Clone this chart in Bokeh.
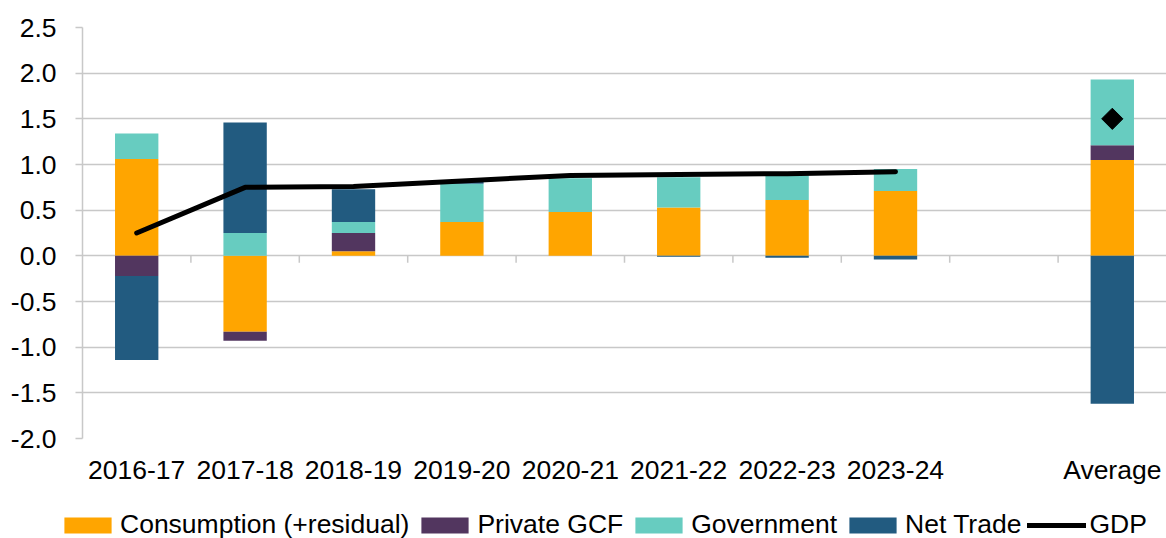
import numpy as np
from bokeh.plotting import figure
from bokeh.layouts import column
from bokeh.models import Range1d, FixedTicker, Legend, LegendItem, ColumnDataSource, PrintfTickFormatter
from bokeh.embed import file_html
from bokeh.resources import INLINE

categories = ["2016-17", "2017-18", "2018-19", "2019-20", "2020-21", "2021-22",
              "2022-23", "2023-24", "", "Average"]
consumption = [1.06, -0.83, 0.05, 0.37, 0.48, 0.53, 0.61, 0.71, 0.0, 1.05]
private_gcf = [-0.22, -0.10, 0.20, 0.00, 0.00, 0.00, 0.00, 0.00, 0.0, 0.16]
government = [0.28, 0.25, 0.12, 0.42, 0.37, 0.33, 0.27, 0.24, 0.0, 0.72]
net_trade = [-0.92, 1.21, 0.36, 0.02, 0.00, -0.01, -0.02, -0.04, 0.0, -1.62]
gdp_years = ["2016-17", "2017-18", "2018-19", "2019-20", "2020-21", "2021-22", "2022-23", "2023-24"]
gdp = [0.25, 0.75, 0.76, 0.82, 0.88, 0.89, 0.90, 0.92]
gdp_average = [1.50]
y_ticks = [-2.0, -1.5, -1.0, -0.5, 0.0, 0.5, 1.0, 1.5, 2.0, 2.5]

series = [("Consumption (+residual)", consumption, "#FFA500"),
          ("Private GCF", private_gcf, "#52365F"),
          ("Government", government, "#67CCC0"),
          ("Net Trade", net_trade, "#225B80")]

FONT = "Liberation Sans"
GRID = "#C8C8C8"
FS = "26.5px"

xpos = np.arange(len(categories)) + 0.5
pos_base = np.zeros(len(categories))
neg_base = np.zeros(len(categories))

p = figure(width=1166, height=502, output_backend="svg", toolbar_location=None,
           x_range=Range1d(0, len(categories)), y_range=Range1d(-2.0, 2.5),
           min_border_left=82, min_border_right=0, min_border_top=27, min_border_bottom=64)
p.outline_line_color = None

# category boundary tick marks at the zero line
tick_len = 7 * 4.5 / 411.0
bounds = np.arange(1, len(categories))
p.segment(x0=bounds, y0=np.zeros(len(bounds)), x1=bounds, y1=np.full(len(bounds), -tick_len),
          line_color=GRID, line_width=1.5)

# legend-only figure
lg = figure(width=1166, height=36, output_backend="svg", toolbar_location=None,
            x_range=Range1d(0, 1), y_range=Range1d(0, 1), x_axis_location=None, y_axis_location=None,
            min_border_left=0, min_border_right=0, min_border_top=0, min_border_bottom=0)
lg.outline_line_color = None
lg.xgrid.grid_line_color = None
lg.ygrid.grid_line_color = None

aligned = False
for fig in (p, lg):
    if "frame_align" in fig.properties():
        fig.frame_align = False
        aligned = True

items = []
for name, vals, col in series:
    v = np.array(vals, dtype=float)
    bottom = np.where(v >= 0, pos_base, neg_base)
    top = bottom + v
    pos_base = np.where(v >= 0, top, pos_base)
    neg_base = np.where(v < 0, top, neg_base)
    src = ColumnDataSource(dict(x=xpos, top=top, bottom=bottom))
    p.vbar(x="x", top="top", bottom="bottom", width=0.4, source=src,
           fill_color=col, line_color=None)
    lr_ = lg.vbar(x=[-5], top=[-5], bottom=[-6], width=0.4, fill_color=col, line_color=None)
    items.append(LegendItem(label=name, renderers=[lr_]))

gx = [xpos[categories.index(c)] for c in gdp_years]
p.line(gx, gdp, line_color="black", line_width=5, line_cap="round", line_join="round")
lgl = lg.line(x=[-5, -4], y=[-5, -5], line_color="black", line_width=5, line_cap="round")
items.append(LegendItem(label="GDP", renderers=[lgl]))
p.scatter([xpos[categories.index("Average")]], gdp_average, marker="square", angle=np.pi / 4,
          size=15, fill_color="black", line_color="black")

# axes
p.yaxis.ticker = FixedTicker(ticks=y_ticks)
p.yaxis.formatter = PrintfTickFormatter(format="%.1f")
p.yaxis.axis_line_color = GRID
p.yaxis.axis_line_width = 1.5
p.yaxis.major_tick_line_color = GRID
p.yaxis.major_tick_line_width = 1.5
p.yaxis.major_tick_out = 7
p.yaxis.major_tick_in = 0
p.yaxis.minor_tick_line_color = None
p.yaxis.major_label_text_font = FONT
p.yaxis.major_label_text_font_size = FS
p.yaxis.major_label_text_color = "black"
p.yaxis.major_label_standoff = 19

p.xaxis.ticker = FixedTicker(ticks=list(xpos))
p.xaxis.major_label_overrides = {float(x): c for x, c in zip(xpos, categories)}
p.xaxis.axis_line_color = None
p.xaxis.major_tick_line_color = None
p.xaxis.minor_tick_line_color = None
p.xaxis.major_label_text_font = FONT
p.xaxis.major_label_text_font_size = FS
p.xaxis.major_label_text_color = "black"
p.xaxis.major_label_standoff = 10

p.xgrid.grid_line_color = None
p.ygrid.ticker = FixedTicker(ticks=y_ticks)
p.ygrid.grid_line_color = GRID
p.ygrid.grid_line_width = 1.5

legend_x = 58 if aligned else -24
legend = Legend(items=items, orientation="horizontal", location=(legend_x, -2),
                label_text_font=FONT, label_text_font_size=FS, label_text_color="black",
                glyph_width=59, glyph_height=20, spacing=6, label_standoff=3,
                border_line_color=None, padding=0, margin=0, background_fill_alpha=0)
lg.add_layout(legend, "center")

layout = column(p, lg, spacing=0)
open("out.html", "w").write(file_html(layout, INLINE))
